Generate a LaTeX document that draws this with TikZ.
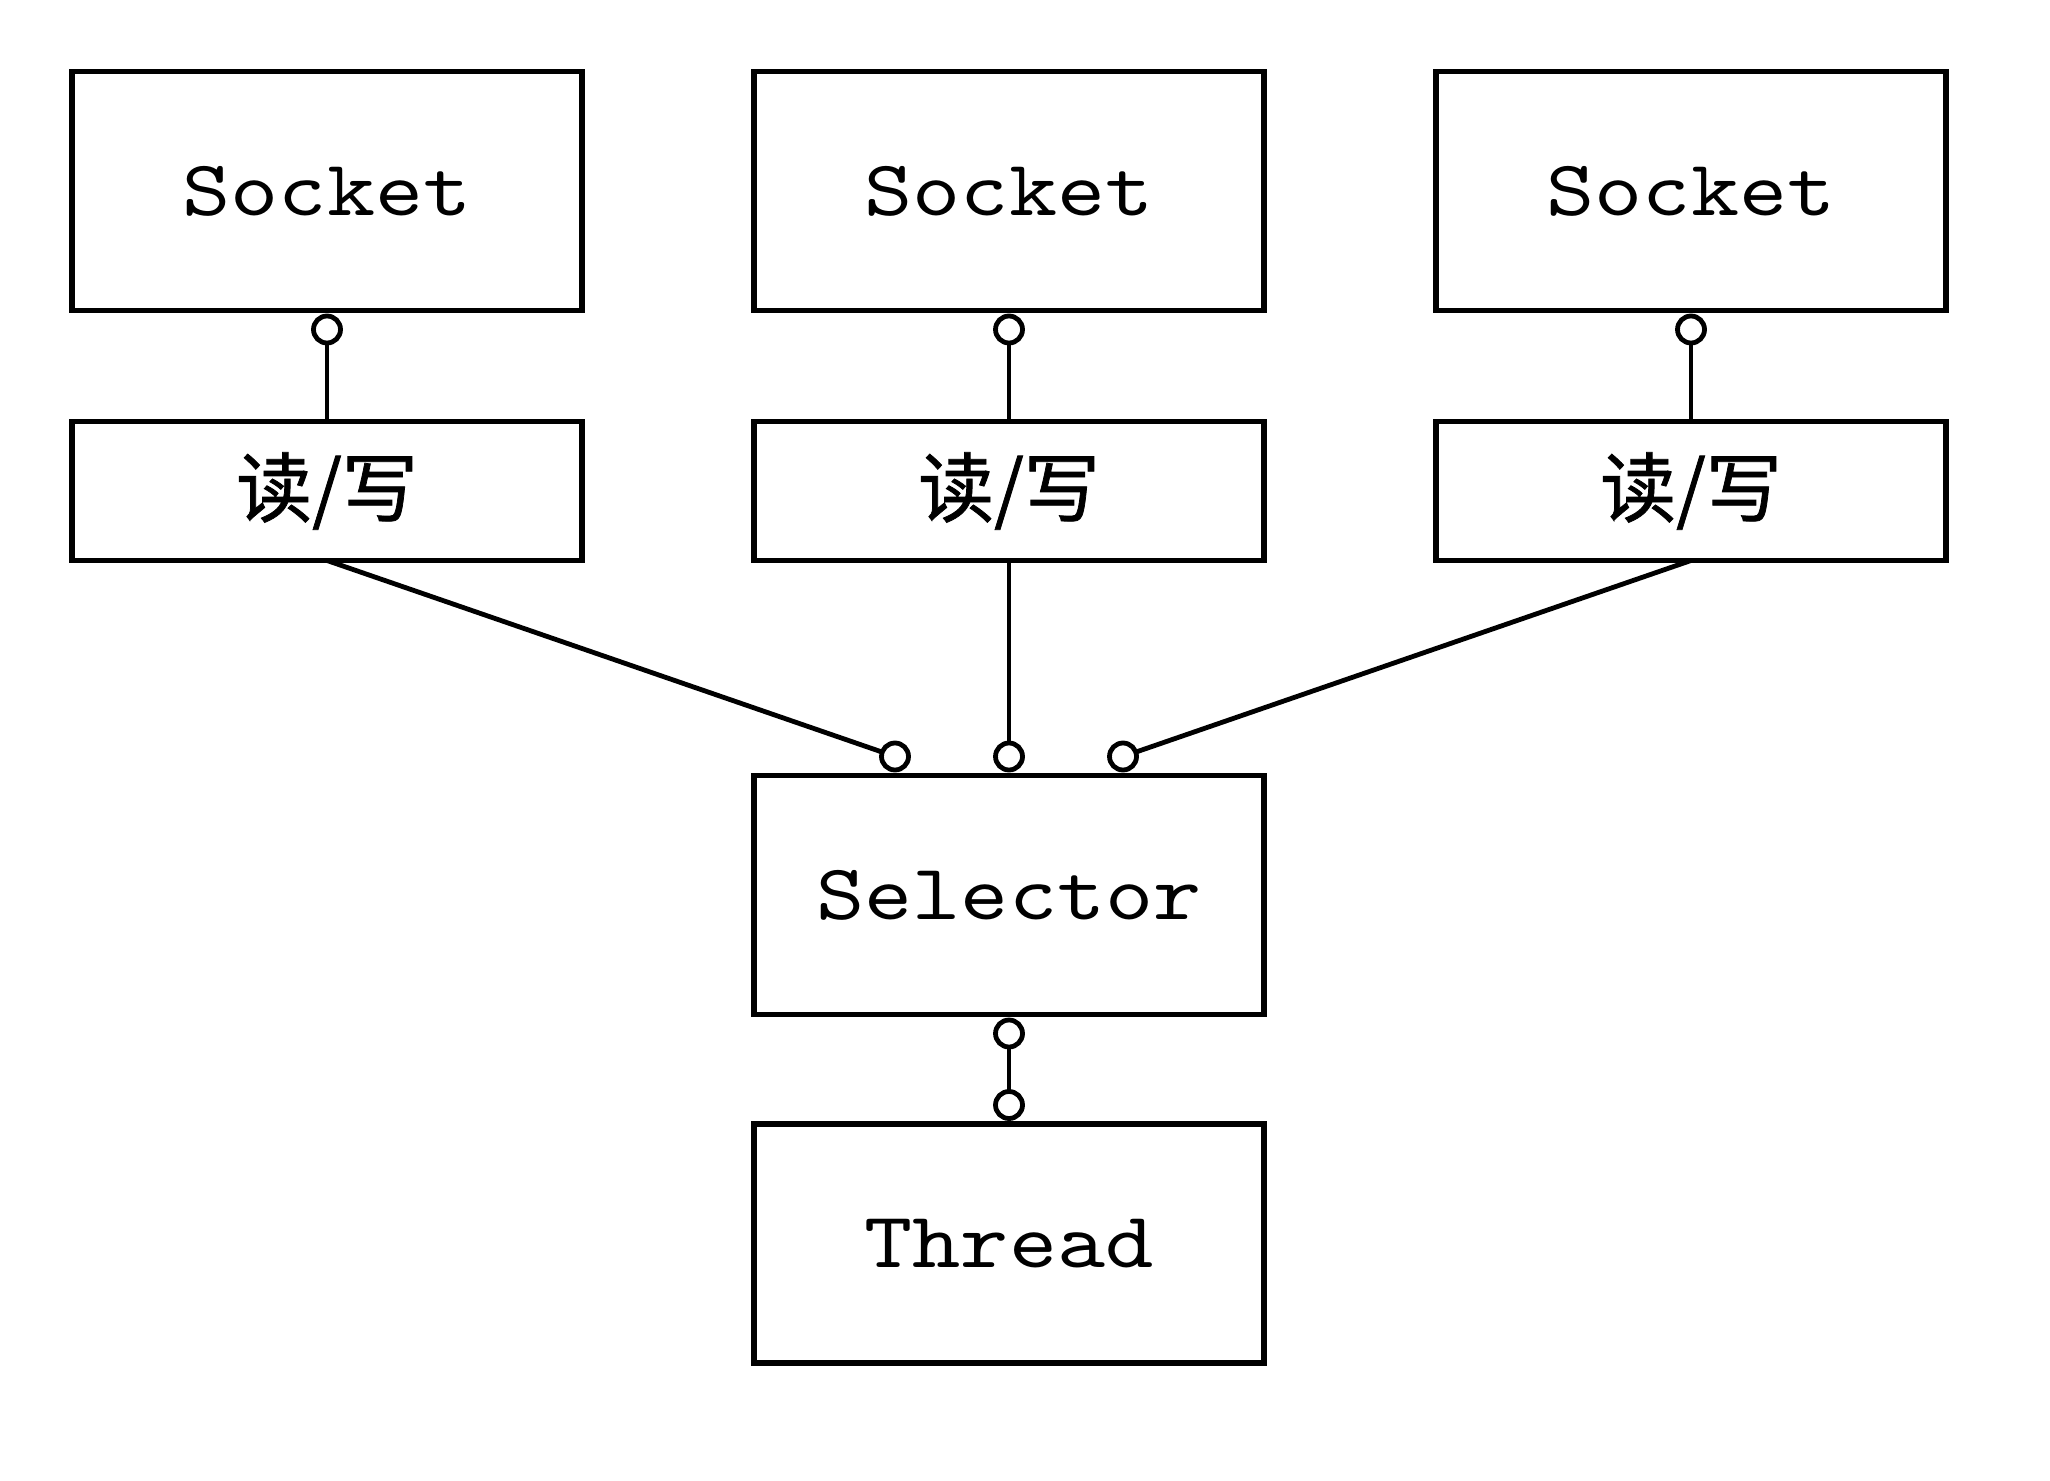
\documentclass[tikz,border=0pt]{standalone}
\usepackage{fontspec}
\newfontfamily\cjk[FakeBold=1]{Noto Sans CJK SC}
\newfontfamily\mono[Extension=.otf, FakeStretch=1.16]{lmmono10-regular}
\usetikzlibrary{calc}
\begin{document}
\begin{tikzpicture}[x=1pt,y=-1pt,
  box/.style={draw, line width=5.5pt, inner sep=0pt, outer sep=0pt, minimum width=510pt},
  tallbox/.style={box, minimum height=239pt, font=\fontsize{79}{86}\selectfont\mono},
  rwbox/.style={box, minimum height=139pt, font=\fontsize{76}{84}\selectfont\cjk},
  port/.style={circle, draw, fill=white, line width=4.8pt, inner sep=0pt, outer sep=0pt, minimum size=27pt},
  link/.style={line width=4.8pt}]
\useasboundingbox (0,0) rectangle (2050,1480);

% sockets with their read/write channels
\foreach \i/\x in {1/327, 2/1009, 3/1691} {
  \node[tallbox] (s\i) at (\x,191) {Socket};
  \node[rwbox] (rw\i) at (\x,491) {读/写};
  \node[port] (ps\i) at ($(s\i.south)+(0,19)$) {};
  \draw[link] (ps\i.south) -- (rw\i.north);
}

% selector and thread
\node[tallbox] (sel) at (1009,895) {Selector};
\node[tallbox] (thr) at (1009,1243.5) {Thread};

% registration ports on the selector
\node[port] (pl) at ($(sel.north)+(-114,-19)$) {};
\node[port] (pm) at ($(sel.north)+(0,-19)$) {};
\node[port] (pr) at ($(sel.north)+(114,-19)$) {};
\draw[link] (rw1.south) -- (pl);
\draw[link] (rw2.south) -- (pm.north);
\draw[link] (rw3.south) -- (pr);

% selector bound to its thread
\node[port] (pa) at ($(sel.south)+(0,19)$) {};
\node[port] (pb) at ($(thr.north)+(0,-19)$) {};
\draw[link] (pa.south) -- (pb.north);
\end{tikzpicture}
\end{document}
